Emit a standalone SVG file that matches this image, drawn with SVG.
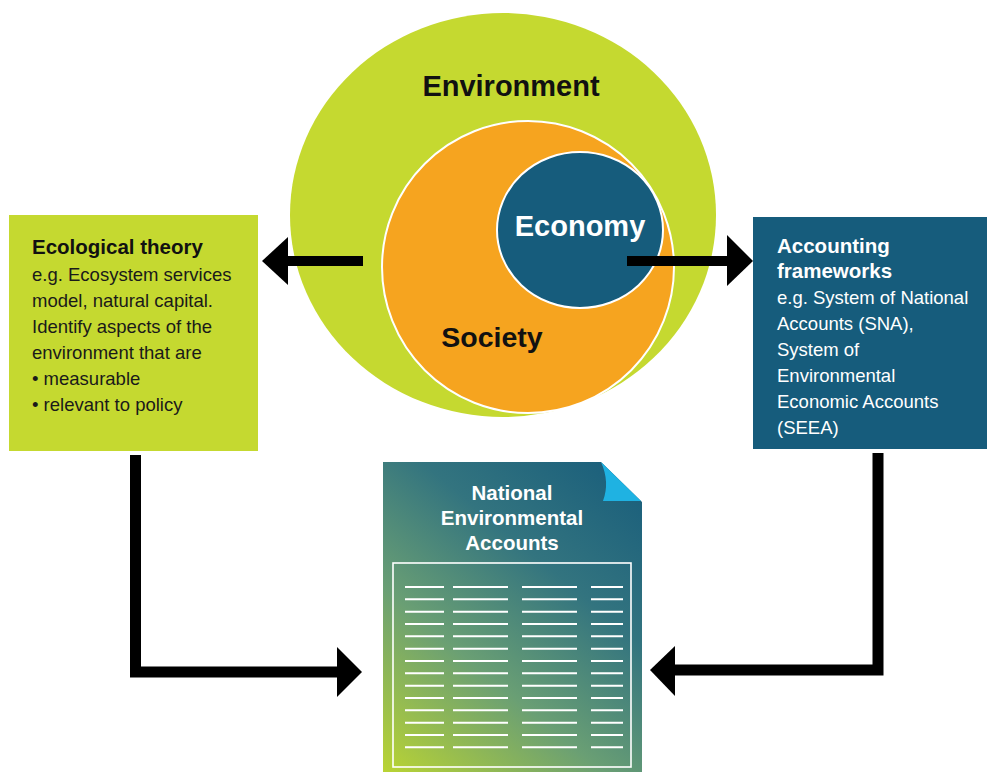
<svg xmlns="http://www.w3.org/2000/svg" width="987" height="772" viewBox="0 0 987 772">
<defs>
<linearGradient id="docGrad" gradientUnits="userSpaceOnUse" x1="383" y1="772" x2="642" y2="462">
<stop offset="0" stop-color="#bad433"/>
<stop offset="0.35" stop-color="#6a9f74"/>
<stop offset="0.65" stop-color="#33747f"/>
<stop offset="1" stop-color="#175c7b"/>
</linearGradient>
<style>
.h{font-family:"Liberation Sans",Arial,sans-serif;font-weight:bold}
.t{font-family:"Liberation Sans",Arial,sans-serif}
.row{stroke:#ffffff;stroke-width:2}
.conn{fill:none;stroke:#000;stroke-width:11;stroke-linejoin:miter}
</style>
</defs>
<rect width="987" height="772" fill="#ffffff"/>

<g id="environment">
<ellipse cx="503" cy="215" rx="213" ry="202" fill="#c5d930"/>
<text class="h" x="511" y="96" font-size="29" text-anchor="middle" fill="#111">Environment</text>
</g>
<g id="society">
<circle cx="528" cy="267" r="146" fill="#f6a41f" stroke="#ffffff" stroke-width="2"/>
<text class="h" x="492" y="347" font-size="28.5" text-anchor="middle" fill="#111">Society</text>
</g>
<g id="economy">
<ellipse cx="580" cy="230" rx="83" ry="78" fill="#165c7c" stroke="#ffffff" stroke-width="2"/>
<text class="h" x="580" y="236" font-size="29" text-anchor="middle" fill="#ffffff">Economy</text>
</g>

<g id="ecological-theory">
<rect x="9" y="215" width="249" height="236" fill="#c5d930"/>
<text class="h" x="32" y="254" font-size="20.5" fill="#111">Ecological theory</text>
<g class="t" font-size="18.5" fill="#1a1a1a">
<text x="32" y="281">e.g. Ecosystem services</text>
<text x="32" y="307">model, natural capital.</text>
<text x="32" y="333">Identify aspects of the</text>
<text x="32" y="359">environment that are</text>
<text x="32" y="385">• measurable</text>
<text x="32" y="411">• relevant to policy</text>
</g>
</g>

<g id="accounting-frameworks">
<rect x="753" y="217" width="234" height="232" fill="#165c7c"/>
<text class="h" x="777" y="253" font-size="20.5" fill="#ffffff">Accounting</text>
<text class="h" x="777" y="278" font-size="20.5" fill="#ffffff">frameworks</text>
<g class="t" font-size="18.5" fill="#ffffff">
<text x="777" y="304">e.g. System of National</text>
<text x="777" y="330">Accounts (SNA),</text>
<text x="777" y="356">System of</text>
<text x="777" y="382">Environmental</text>
<text x="777" y="408">Economic Accounts</text>
<text x="777" y="434">(SEEA)</text>
</g>
</g>

<g id="national-accounts">
<path d="M383,462 L601,462 L642,502 L642,772 L383,772 Z" fill="url(#docGrad)"/>
<path d="M601,462 L641,501 L603,501 Q610,482 601,462 Z" fill="#1fb2e2"/>
<text class="h" x="512" y="500" font-size="20.5" text-anchor="middle" fill="#ffffff">National</text>
<text class="h" x="512" y="525" font-size="20.5" text-anchor="middle" fill="#ffffff">Environmental</text>
<text class="h" x="512" y="550" font-size="20.5" text-anchor="middle" fill="#ffffff">Accounts</text>
<rect x="393" y="563" width="238" height="204" fill="none" stroke="#ffffff" stroke-width="1.6"/>
<g class="row">
<path d="M405,587H444M453,587H508M522,587H577M591,587H623
M405,599.3H444M453,599.3H508M522,599.3H577M591,599.3H623
M405,611.7H444M453,611.7H508M522,611.7H577M591,611.7H623
M405,624H444M453,624H508M522,624H577M591,624H623
M405,636.3H444M453,636.3H508M522,636.3H577M591,636.3H623
M405,648.7H444M453,648.7H508M522,648.7H577M591,648.7H623
M405,661H444M453,661H508M522,661H577M591,661H623
M405,673.3H444M453,673.3H508M522,673.3H577M591,673.3H623
M405,685.7H444M453,685.7H508M522,685.7H577M591,685.7H623
M405,698H444M453,698H508M522,698H577M591,698H623
M405,710.3H444M453,710.3H508M522,710.3H577M591,710.3H623
M405,722.7H444M453,722.7H508M522,722.7H577M591,722.7H623
M405,735H444M453,735H508M522,735H577M591,735H623
M405,747.3H444M453,747.3H508M522,747.3H577M591,747.3H623"/>
</g>
</g>

<g id="connectors">
<rect x="287" y="256" width="76" height="10" fill="#000"/>
<polygon points="262,261 288,237 288,285" fill="#000"/>
<rect x="627" y="256" width="101" height="10" fill="#000"/>
<polygon points="753,261 727,235 727,286" fill="#000"/>
<path class="conn" d="M135.5,455 V672 H339"/>
<polygon points="362,672 337,647 337,697" fill="#000"/>
<path class="conn" d="M878,453 V670 H674" stroke-width="10"/>
<polygon points="650,670 675,646 675,696" fill="#000"/>
</g>
</svg>
